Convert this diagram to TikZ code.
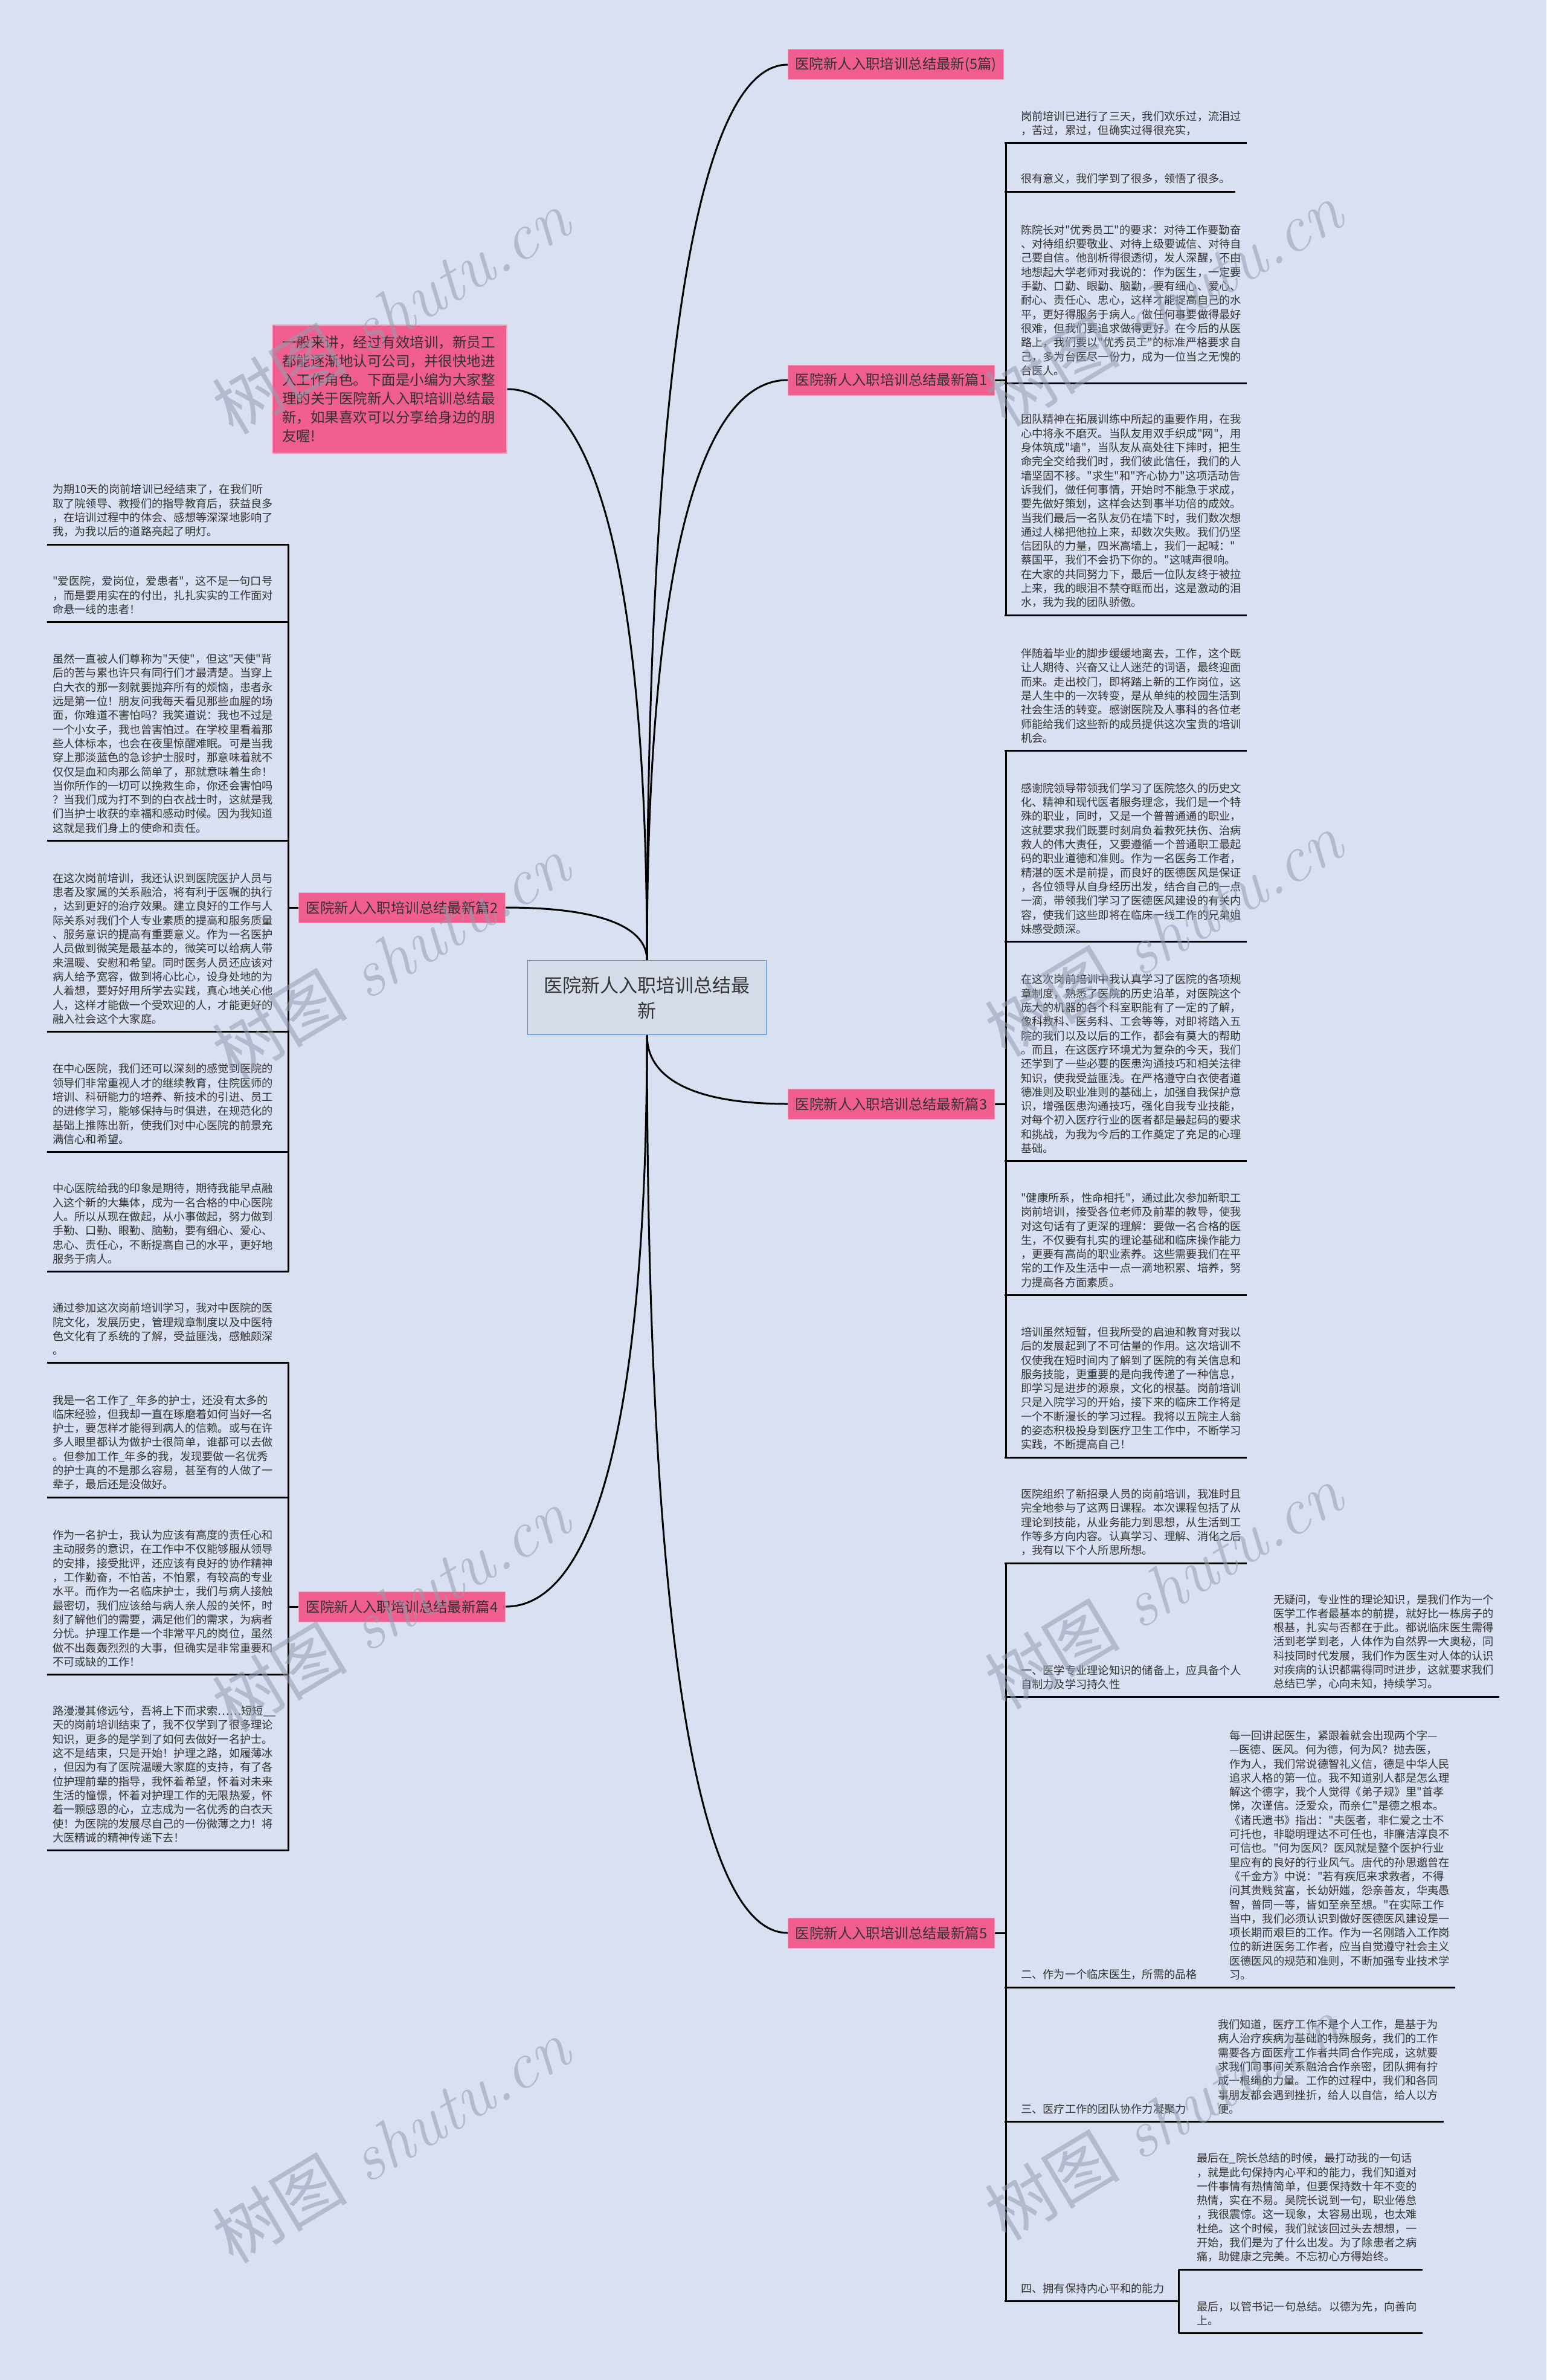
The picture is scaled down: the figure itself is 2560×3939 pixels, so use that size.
\documentclass[tikz,border=0pt]{standalone}
\usepackage{fontspec}
\newfontfamily\cjk{Noto Sans CJK SC}
\usetikzlibrary{calc}
\definecolor{bg}{RGB}{217,224,242}
\definecolor{pinkfill}{RGB}{239,94,142}
\definecolor{pinkedge}{RGB}{246,160,190}
\definecolor{centerfill}{RGB}{213,220,233}
\definecolor{centerline}{RGB}{80,130,210}
\definecolor{txt}{RGB}{51,51,51}
\definecolor{wmcol}{RGB}{150,156,175}
\newcommand\leaffont{\cjk\fontsize{18.25pt}{23.3pt}\selectfont}
\newcommand\brfont{\cjk\fontsize{23.4pt}{28pt}\selectfont}
\newcommand\intfont{\cjk\fontsize{23.5pt}{31pt}\selectfont}
\newcommand\cenfont{\cjk\fontsize{31pt}{42pt}\selectfont}
\newcommand\wmfont{\fontsize{112pt}{112pt}\selectfont}
\newcommand\mmcurve[2]{\draw[conn] let \p1=(#1), \p2=(#2) in (\p1) .. controls (\x1,{\y1+0.6*(\y2-\y1)}) and ({\x1+0.3*(\x2-\x1)},\y2) .. (\p2);}
\newcommand\rleaf[2]{\draw[conn] (#1.east) -- ([xshift=18pt]#1.east) |- ([xshift=-27pt]#2.south west) -- ([xshift=8pt]#2.south east);}
\newcommand\lleaf[2]{\draw[conn] (#1.west) -- ([xshift=-17pt]#1.west) |- ([xshift=25pt]#2.south east) -- ([xshift=-9pt]#2.south west);}
\begin{document}
\begin{tikzpicture}[x=1pt,y=-1pt,
  conn/.style={line width=3pt, draw=black},
  leaf/.style={anchor=south west, inner xsep=0pt, inner ysep=12pt, text width=366pt, align=left, font=\leaffont, text=txt},
  leafn/.style={anchor=south west, inner xsep=0pt, inner ysep=12pt, align=left, font=\leaffont, text=txt},
  branch/.style={fill=pinkfill, draw=pinkedge, line width=1pt, minimum width=342pt, minimum height=50pt, inner xsep=4pt, inner ysep=0pt, font=\brfont, text=txt},
  hub/.style={fill=centerfill, draw=centerline, line width=1.5pt, minimum width=395pt, minimum height=123pt, align=center, font=\cenfont, text=txt},
  intro/.style={fill=pinkfill, draw=pinkedge, line width=1.5pt, minimum width=388pt, minimum height=212pt, text width=356pt, inner xsep=10pt, align=left, font=\intfont, text=txt},
  wm/.style={text=wmcol, opacity=0.55, rotate=31, font=\wmfont}
]
\fill[bg] (0,0) rectangle (2560,3939);
\useasboundingbox (0,0) rectangle (2560,3939);

% centre and branches
\node[hub] (c) at (1071,1651) {医院新人入职培训总结最\\新};
\node[intro] (intro) at (645,644) {一般来讲，经过有效培训，新员工\\都能逐渐地认可公司，并很快地进\\入工作角色。下面是小编为大家整\\理的关于医院新人入职培训总结最\\新，如果喜欢可以分享给身边的朋\\友喔!};
\node[branch, anchor=west, minimum width=357pt] (b0) at (1304,107) {医院新人入职培训总结最新(5篇)};
\node[branch, anchor=west] (b1) at (1304,629) {医院新人入职培训总结最新篇1};
\node[branch, anchor=east] (b2) at (837,1502) {医院新人入职培训总结最新篇2};
\node[branch, anchor=west] (b3) at (1304,1827) {医院新人入职培训总结最新篇3};
\node[branch, anchor=east] (b4) at (837,2659) {医院新人入职培训总结最新篇4};
\node[branch, anchor=west] (b5) at (1304,3199) {医院新人入职培训总结最新篇5};

\mmcurve{c.north}{b0.west}
\mmcurve{c.north}{b1.west}
\mmcurve{c.north}{intro.east}
\mmcurve{c.north}{b2.east}
\mmcurve{c.south}{b3.west}
\mmcurve{c.south}{b4.east}
\mmcurve{c.south}{b5.west}

% branch 1
\node[leaf] (L1a) at (1690,237) {岗前培训已进行了三天，我们欢乐过，流泪过\\，苦过，累过，但确实过得很充实，};
\node[leafn] (L1b) at (1690,317) {很有意义，我们学到了很多，领悟了很多。};
\node[leaf] (L1c) at (1690,634) {陈院长对"优秀员工"的要求：对待工作要勤奋\\、对待组织要敬业、对待上级要诚信、对待自\\己要自信。他剖析得很透彻，发人深醒，不由\\地想起大学老师对我说的：作为医生，一定要\\手勤、口勤、眼勤、脑勤，要有细心、爱心、\\耐心、责任心、忠心，这样才能提高自己的水\\平，更好得服务于病人。做任何事要做得最好\\很难，但我们要追求做得更好。在今后的从医\\路上，我们要以"优秀员工"的标准严格要求自\\己，多为台医尽一份力，成为一位当之无愧的\\台医人。};
\node[leaf] (L1d) at (1690,1018) {团队精神在拓展训练中所起的重要作用，在我\\心中将永不磨灭。当队友用双手织成"网"，用\\身体筑成"墙"，当队友从高处往下摔时，把生\\命完全交给我们时，我们彼此信任，我们的人\\墙坚固不移。"求生"和"齐心协力"这项活动告\\诉我们，做任何事情，开始时不能急于求成，\\要先做好策划，这样会达到事半功倍的成效。\\当我们最后一名队友仍在墙下时，我们数次想\\通过人梯把他拉上来，却数次失败。我们仍坚\\信团队的力量，四米高墙上，我们一起喊："\\蔡国平，我们不会扔下你的。"这喊声很响。\\在大家的共同努力下，最后一位队友终于被拉\\上来，我的眼泪不禁夺眶而出，这是激动的泪\\水，我为我的团队骄傲。};
\rleaf{b1}{L1a}
\rleaf{b1}{L1b}
\rleaf{b1}{L1c}
\rleaf{b1}{L1d}

% branch 3
\node[leaf] (L3a) at (1690,1242) {伴随着毕业的脚步缓缓地离去，工作，这个既\\让人期待、兴奋又让人迷茫的词语，最终迎面\\而来。走出校门，即将踏上新的工作岗位，这\\是人生中的一次转变，是从单纯的校园生活到\\社会生活的转变。感谢医院及人事科的各位老\\师能给我们这些新的成员提供这次宝贵的培训\\机会。};
\node[leaf] (L3b) at (1690,1558) {感谢院领导带领我们学习了医院悠久的历史文\\化、精神和现代医者服务理念，我们是一个特\\殊的职业，同时，又是一个普普通通的职业，\\这就要求我们既要时刻肩负着救死扶伤、治病\\救人的伟大责任，又要遵循一个普通职工最起\\码的职业道德和准则。作为一名医务工作者，\\精湛的医术是前提，而良好的医德医风是保证\\，各位领导从自身经历出发，结合自己的一点\\一滴，带领我们学习了医德医风建设的有关内\\容，使我们这些即将在临床一线工作的兄弟姐\\妹感受颇深。};
\node[leaf] (L3c) at (1690,1921) {在这次岗前培训中我认真学习了医院的各项规\\章制度，熟悉了医院的历史沿革，对医院这个\\庞大的机器的各个科室职能有了一定的了解，\\像科教科、医务科、工会等等，对即将踏入五\\院的我们以及以后的工作，都会有莫大的帮助\\。而且，在这医疗环境尤为复杂的今天，我们\\还学到了一些必要的医患沟通技巧和相关法律\\知识，使我受益匪浅。在严格遵守白衣使者道\\德准则及职业准则的基础上，加强自我保护意\\识，增强医患沟通技巧，强化自我专业技能，\\对每个初入医疗行业的医者都是最起码的要求\\和挑战，为我为今后的工作奠定了充足的心理\\基础。};
\node[leaf] (L3d) at (1690,2143) {"健康所系，性命相托"，通过此次参加新职工\\岗前培训，接受各位老师及前辈的教导，使我\\对这句话有了更深的理解：要做一名合格的医\\生，不仅要有扎实的理论基础和临床操作能力\\，更要有高尚的职业素养。这些需要我们在平\\常的工作及生活中一点一滴地积累、培养，努\\力提高各方面素质。};
\node[leaf] (L3e) at (1690,2412) {培训虽然短暂，但我所受的启迪和教育对我以\\后的发展起到了不可估量的作用。这次培训不\\仅使我在短时间内了解到了医院的有关信息和\\服务技能，更重要的是向我传递了一种信息，\\即学习是进步的源泉，文化的根基。岗前培训\\只是入院学习的开始，接下来的临床工作将是\\一个不断漫长的学习过程。我将以五院主人翁\\的姿态积极投身到医疗卫生工作中，不断学习\\实践，不断提高自己！};
\rleaf{b3}{L3a}
\rleaf{b3}{L3b}
\rleaf{b3}{L3c}
\rleaf{b3}{L3d}
\rleaf{b3}{L3e}

% branch 2
\node[leaf] (L2a) at (87,901) {为期10天的岗前培训已经结束了，在我们听\\取了院领导、教授们的指导教育后，获益良多\\，在培训过程中的体会、感想等深深地影响了\\我，为我以后的道路亮起了明灯。};
\node[leaf] (L2b) at (87,1029) {"爱医院，爱岗位，爱患者"，这不是一句口号\\，而是要用实在的付出，扎扎实实的工作面对\\命悬一线的患者！};
\node[leaf] (L2c) at (87,1391) {虽然一直被人们尊称为"天使"，但这"天使"背\\后的苦与累也许只有同行们才最清楚。当穿上\\白大衣的那一刻就要抛弃所有的烦恼，患者永\\远是第一位！朋友问我每天看见那些血腥的场\\面，你难道不害怕吗？我笑道说：我也不过是\\一个小女子，我也曾害怕过。在学校里看着那\\些人体标本，也会在夜里惊醒难眠。可是当我\\穿上那淡蓝色的急诊护士服时，那意味着就不\\仅仅是血和肉那么简单了，那就意味着生命！\\当你所作的一切可以挽救生命，你还会害怕吗\\？当我们成为打不到的白衣战士时，这就是我\\们当护士收获的幸福和感动时候。因为我知道\\这就是我们身上的使命和责任。};
\node[leaf] (L2d) at (87,1707) {在这次岗前培训，我还认识到医院医护人员与\\患者及家属的关系融洽，将有利于医嘱的执行\\，达到更好的治疗效果。建立良好的工作与人\\际关系对我们个人专业素质的提高和服务质量\\、服务意识的提高有重要意义。作为一名医护\\人员做到微笑是最基本的，微笑可以给病人带\\来温暖、安慰和希望。同时医务人员还应该对\\病人给予宽容，做到将心比心，设身处地的为\\人着想，要好好用所学去实践，真心地关心他\\人，这样才能做一个受欢迎的人，才能更好的\\融入社会这个大家庭。};
\node[leaf] (L2e) at (87,1906) {在中心医院，我们还可以深刻的感觉到医院的\\领导们非常重视人才的继续教育，住院医师的\\培训、科研能力的培养、新技术的引进、员工\\的进修学习，能够保持与时俱进，在规范化的\\基础上推陈出新，使我们对中心医院的前景充\\满信心和希望。};
\node[leaf] (L2f) at (87,2104) {中心医院给我的印象是期待，期待我能早点融\\入这个新的大集体，成为一名合格的中心医院\\人。所以从现在做起，从小事做起，努力做到\\手勤、口勤、眼勤、脑勤，要有细心、爱心、\\忠心、责任心，不断提高自己的水平，更好地\\服务于病人。};
\lleaf{b2}{L2a}
\lleaf{b2}{L2b}
\lleaf{b2}{L2c}
\lleaf{b2}{L2d}
\lleaf{b2}{L2e}
\lleaf{b2}{L2f}

% branch 4
\node[leaf] (L4a) at (87,2255) {通过参加这次岗前培训学习，我对中医院的医\\院文化，发展历史，管理规章制度以及中医特\\色文化有了系统的了解，受益匪浅，感触颇深\\。};
\node[leaf] (L4b) at (87,2478) {我是一名工作了\_年多的护士，还没有太多的\\临床经验，但我却一直在琢磨着如何当好一名\\护士，要怎样才能得到病人的信赖。或与在许\\多人眼里都认为做护士很简单，谁都可以去做\\。但参加工作\_年多的我，发现要做一名优秀\\的护士真的不是那么容易，甚至有的人做了一\\辈子，最后还是没做好。};
\node[leaf] (L4c) at (87,2771) {作为一名护士，我认为应该有高度的责任心和\\主动服务的意识，在工作中不仅能够服从领导\\的安排，接受批评，还应该有良好的协作精神\\，工作勤奋，不怕苦，不怕累，有较高的专业\\水平。而作为一名临床护士，我们与病人接触\\最密切，我们应该给与病人亲人般的关怀，时\\刻了解他们的需要，满足他们的需求，为病者\\分忧。护理工作是一个非常平凡的岗位，虽然\\做不出轰轰烈烈的大事，但确实是非常重要和\\不可或缺的工作！};
\node[leaf] (L4d) at (87,3062) {路漫漫其修远兮，吾将上下而求索……短短\_\_\\天的岗前培训结束了，我不仅学到了很多理论\\知识，更多的是学到了如何去做好一名护士。\\这不是结束，只是开始！护理之路，如履薄冰\\，但因为有了医院温暖大家庭的支持，有了各\\位护理前辈的指导，我怀着希望，怀着对未来\\生活的憧憬，怀着对护理工作的无限热爱，怀\\着一颗感恩的心，立志成为一名优秀的白衣天\\使！为医院的发展尽自己的一份微薄之力！将\\大医精诚的精神传递下去！};
\lleaf{b4}{L4a}
\lleaf{b4}{L4b}
\lleaf{b4}{L4c}
\lleaf{b4}{L4d}

% branch 5
\node[leaf] (L5a) at (1690,2587) {医院组织了新招录人员的岗前培训，我准时且\\完全地参与了这两日课程。本次课程包括了从\\理论到技能，从业务能力到思想，从生活到工\\作等多方向内容。认真学习、理解、消化之后\\，我有以下个人所思所想。};
\rleaf{b5}{L5a}

\node[leaf] (P5b) at (1690,2808) {一、医学专业理论知识的储备上，应具备个人\\自制力及学习持久性};
\node[leaf] (C5b) at (2108,2808) {无疑问，专业性的理论知识，是我们作为一个\\医学工作者最基本的前提，就好比一栋房子的\\根基，扎实与否都在于此。都说临床医生需得\\活到老学到老，人体作为自然界一大奥秘，同\\科技同时代发展，我们作为医生对人体的认识\\对疾病的认识都需得同时进步，这就要求我们\\总结已学，心向未知，持续学习。};
\draw[conn] (b5.east) -- ([xshift=18pt]b5.east) |- ([xshift=-27pt]P5b.south west) -- (P5b.south east);
\draw[conn] (P5b.south east) -- ([xshift=8pt]C5b.south east);

\node[leafn] (P5c) at (1690,3289) {二、作为一个临床医生，所需的品格};
\node[leaf] (C5c) at (2035,3289) {每一回讲起医生，紧跟着就会出现两个字—\\—医德、医风。何为德，何为风？抛去医，\\作为人，我们常说德智礼义信，德是中华人民\\追求人格的第一位。我不知道别人都是怎么理\\解这个德字，我个人觉得《弟子规》里"首孝\\悌，次谨信。泛爱众，而亲仁"是德之根本。\\《诸氏遗书》指出："夫医者，非仁爱之士不\\可托也，非聪明理达不可任也，非廉洁淳良不\\可信也。"何为医风？医风就是整个医护行业\\里应有的良好的行业风气。唐代的孙思邈曾在\\《千金方》中说："若有疾厄来求救者，不得\\问其贵贱贫富，长幼妍媸，怨亲善友，华夷愚\\智，普同一等，皆如至亲至想。"在实际工作\\当中，我们必须认识到做好医德医风建设是一\\项长期而艰巨的工作。作为一名刚踏入工作岗\\位的新进医务工作者，应当自觉遵守社会主义\\医德医风的规范和准则，不断加强专业技术学\\习。};
\draw[conn] (b5.east) -- ([xshift=18pt]b5.east) |- ([xshift=-27pt]P5c.south west) -- (P5c.south east);
\draw[conn] (P5c.south east) -- ([xshift=8pt]C5c.south east);

\node[leafn] (P5d) at (1690,3511) {三、医疗工作的团队协作力凝聚力};
\node[leaf] (C5d) at (2016,3511) {我们知道，医疗工作不是个人工作，是基于为\\病人治疗疾病为基础的特殊服务，我们的工作\\需要各方面医疗工作者共同合作完成，这就要\\求我们同事间关系融洽合作亲密，团队拥有拧\\成一根绳的力量。工作的过程中，我们和各同\\事朋友都会遇到挫折，给人以自信，给人以方\\便。};
\draw[conn] (b5.east) -- ([xshift=18pt]b5.east) |- ([xshift=-27pt]P5d.south west) -- (P5d.south east);
\draw[conn] (P5d.south east) -- ([xshift=8pt]C5d.south east);

\node[leafn] (P5e) at (1690,3808) {四、拥有保持内心平和的能力};
\node[leaf] (C5e1) at (1981,3756) {最后在\_院长总结的时候，最打动我的一句话\\，就是此句保持内心平和的能力，我们知道对\\一件事情有热情简单，但要保持数十年不变的\\热情，实在不易。吴院长说到一句，职业倦怠\\，我很震惊。这一现象，太容易出现，也太难\\杜绝。这个时候，我们就该回过头去想想，一\\开始，我们是为了什么出发。为了除患者之病\\痛，助健康之完美。不忘初心方得始终。};
\node[leaf] (C5e2) at (1981,3861) {最后，以管书记一句总结。以德为先，向善向\\上。};
\draw[conn] (b5.east) -- ([xshift=18pt]b5.east) |- ([xshift=-27pt]P5e.south west) -- ([xshift=24pt]P5e.south east);
\draw[conn] ([xshift=24pt]P5e.south east) |- ([xshift=-30pt]C5e1.south west) -- ([xshift=8pt]C5e1.south east);
\draw[conn] ([xshift=24pt]P5e.south east) |- ([xshift=-30pt]C5e2.south west) -- ([xshift=8pt]C5e2.south east);

% watermarks
\foreach \wx/\wy [count=\i] in {648/515, 1927/502, 648/1583, 1927/1545, 648/2663, 1927/2625, 648/3542, 1927/3504}
  \node[wm] (wm\i) at (\wx,\wy) {{\cjk 树图} \textit{shutu.cn}};
\end{tikzpicture}
\end{document}
